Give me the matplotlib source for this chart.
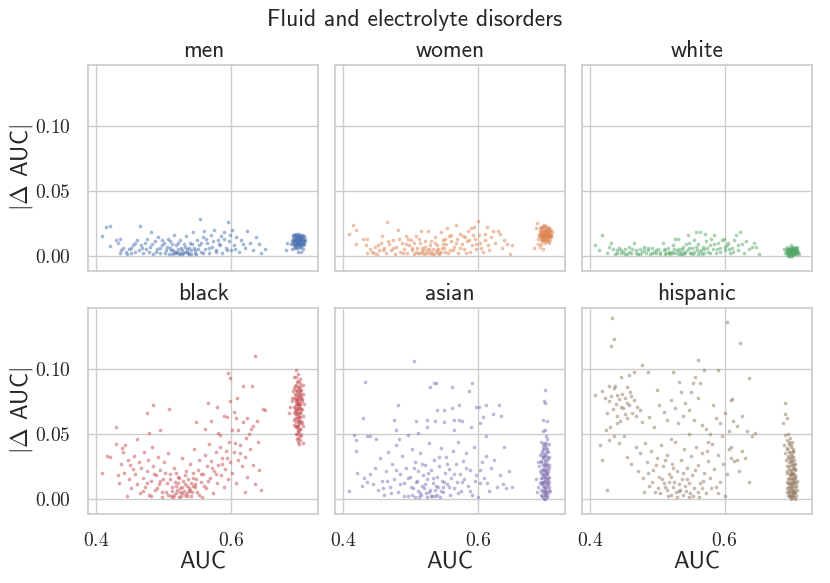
import matplotlib
matplotlib.use("Agg")
import matplotlib.pyplot as plt
import seaborn as sns
from matplotlib.ticker import FuncFormatter

# (AUC, |delta AUC|), spread part and the dense cluster near AUC 0.70
men_spread = [(0.408,0.015),(0.415,0.022),(0.420,0.023),(0.420,0.0075),(0.429,0.012),(0.432,0.010),(0.435,0.013),(0.437,0.004),(0.440,0.006),(0.436,0.002),(0.444,0.003),(0.448,0.005),(0.452,0.002),(0.455,0.008),(0.458,0.0095),(0.461,0.012),(0.465,0.023),(0.463,0.004),(0.468,0.006),(0.470,0.002),(0.472,0.010),(0.476,0.013),(0.478,0.003),(0.480,0.007),(0.482,0.018),(0.485,0.001),(0.487,0.011),(0.490,0.005),(0.492,0.014),(0.495,0.002),(0.498,0.008),(0.500,0.010),(0.503,0.004),(0.506,0.013),(0.508,0.001),(0.510,0.006),(0.513,0.009),(0.515,0.016),(0.517,0.003),(0.519,0.002),(0.521,0.005),(0.523,0.001),(0.525,0.012),(0.527,0.004),(0.529,0.002),(0.531,0.007),(0.533,0.015),(0.535,0.003),(0.537,0.001),(0.539,0.010),(0.541,0.004),(0.543,0.018),(0.545,0.006),(0.547,0.002),(0.549,0.012),(0.552,0.008),(0.554,0.028),(0.556,0.003),(0.558,0.014),(0.560,0.019),(0.562,0.005),(0.565,0.010),(0.567,0.002),(0.570,0.016),(0.572,0.007),(0.575,0.020),(0.577,0.004),(0.580,0.012),(0.582,0.009),(0.585,0.015),(0.587,0.002),(0.590,0.018),(0.592,0.006),(0.595,0.026),(0.597,0.011),(0.600,0.004),(0.602,0.020),(0.605,0.008),(0.608,0.014),(0.612,0.003),(0.615,0.012),(0.620,0.006),(0.623,0.019),(0.628,0.010),(0.632,0.004),(0.637,0.014),(0.641,0.009),(0.645,0.002),(0.650,0.005),(0.512,0.001),(0.516,0.002),(0.520,0.003),(0.524,0.002),(0.528,0.001),(0.532,0.003),(0.536,0.002),(0.540,0.001),(0.514,0.004),(0.526,0.006),(0.534,0.005),(0.546,0.004),
              (0.445,0.001),(0.452,0.006),(0.458,0.003),(0.466,0.008),(0.474,0.005),(0.483,0.009),(0.489,0.003),(0.494,0.006),(0.497,0.012),(0.502,0.002),(0.505,0.007),(0.509,0.011),(0.511,0.004),(0.518,0.008),(0.522,0.010),(0.530,0.009),(0.538,0.006),(0.542,0.009),(0.548,0.001),(0.551,0.005),(0.555,0.010),(0.559,0.002),(0.563,0.013),(0.568,0.006),(0.573,0.011),(0.578,0.003),(0.584,0.008),(0.589,0.013),(0.594,0.004),(0.599,0.016),(0.606,0.005),(0.617,0.009)]
men_cluster = [(0.693,0.012),(0.695,0.010),(0.697,0.013),(0.699,0.011),(0.701,0.009),(0.703,0.012),(0.705,0.010),(0.707,0.013),(0.694,0.008),(0.696,0.015),(0.698,0.008),(0.700,0.014),(0.702,0.016),(0.704,0.007),(0.706,0.015),(0.708,0.009),(0.692,0.014),(0.697,0.017),(0.701,0.012),(0.699,0.006),(0.703,0.014),(0.705,0.012),(0.695,0.013),(0.709,0.011),(0.700,0.010),(0.696,0.011),(0.702,0.010),(0.698,0.013),(0.704,0.011),(0.691,0.010),(0.689,0.009),(0.690,0.005),(0.693,0.016),(0.706,0.005),(0.710,0.013),(0.698,0.015),(0.702,0.007),(0.694,0.006),(0.700,0.017),(0.707,0.008),(0.681,0.004),(0.683,0.010),(0.699,0.003),(0.704,0.003),
               (0.692,0.011),(0.694,0.014),(0.696,0.009),(0.698,0.010),(0.700,0.012),(0.702,0.013),(0.704,0.009),(0.706,0.012),(0.708,0.011),(0.693,0.009),(0.695,0.016),(0.697,0.007),(0.699,0.014),(0.701,0.016),(0.703,0.008),(0.705,0.014),(0.707,0.010),(0.691,0.012),(0.696,0.013),(0.700,0.008),(0.704,0.013),(0.698,0.011),(0.702,0.012),(0.694,0.011),(0.706,0.009),(0.700,0.011),(0.697,0.010),(0.703,0.010),(0.699,0.009),(0.701,0.014),(0.695,0.008),(0.705,0.016),(0.708,0.015),(0.692,0.016),(0.696,0.006),(0.704,0.015)]

women_spread = [(0.409,0.017),(0.415,0.024),(0.419,0.020),(0.420,0.009),(0.430,0.013),(0.435,0.013),(0.434,0.008),(0.436,0.002),(0.440,0.005),(0.443,0.003),(0.447,0.007),(0.450,0.001),(0.453,0.004),(0.457,0.010),(0.458,0.015),(0.461,0.006),(0.464,0.002),(0.466,0.026),(0.468,0.009),(0.471,0.004),(0.474,0.012),(0.477,0.001),(0.479,0.007),(0.482,0.020),(0.484,0.003),(0.487,0.010),(0.490,0.005),(0.493,0.015),(0.495,0.002),(0.498,0.008),(0.501,0.012),(0.503,0.004),(0.505,0.001),(0.508,0.015),(0.510,0.006),(0.512,0.002),(0.514,0.010),(0.516,0.019),(0.518,0.003),(0.520,0.001),(0.522,0.007),(0.524,0.004),(0.526,0.019),(0.528,0.002),(0.530,0.011),(0.532,0.001),(0.534,0.005),(0.536,0.014),(0.538,0.003),(0.540,0.008),(0.542,0.001),(0.545,0.018),(0.547,0.006),(0.549,0.012),(0.551,0.003),(0.553,0.009),(0.555,0.021),(0.557,0.015),(0.559,0.004),(0.561,0.011),(0.564,0.007),(0.567,0.024),(0.569,0.013),(0.571,0.002),(0.574,0.017),(0.576,0.009),(0.579,0.005),(0.581,0.014),(0.584,0.011),(0.586,0.019),(0.588,0.003),(0.590,0.021),(0.592,0.008),(0.594,0.022),(0.596,0.013),(0.598,0.005),(0.600,0.027),(0.602,0.016),(0.604,0.010),(0.607,0.003),(0.610,0.012),(0.613,0.022),(0.615,0.008),(0.617,0.004),(0.620,0.014),(0.623,0.019),(0.626,0.010),(0.630,0.019),(0.633,0.017),(0.636,0.006),(0.639,0.012),(0.644,0.009),(0.648,0.001),(0.651,0.008),(0.515,0.002),(0.519,0.004),(0.523,0.002),(0.527,0.005),(0.531,0.003),(0.535,0.001),(0.539,0.004),(0.543,0.002),(0.546,0.003),(0.550,0.006),
                (0.446,0.002),(0.452,0.008),(0.459,0.004),(0.467,0.011),(0.475,0.006),(0.483,0.013),(0.489,0.002),(0.494,0.009),(0.497,0.013),(0.502,0.006),(0.506,0.010),(0.509,0.003),(0.513,0.013),(0.517,0.006),(0.521,0.011),(0.529,0.008),(0.537,0.010),(0.541,0.005),(0.548,0.009),(0.552,0.013),(0.556,0.002),(0.560,0.016),(0.563,0.004),(0.568,0.010),(0.573,0.006),(0.578,0.015),(0.583,0.002),(0.587,0.012),(0.593,0.016),(0.597,0.009),(0.605,0.006),(0.611,0.017)]
women_cluster = [(0.693,0.017),(0.695,0.014),(0.697,0.019),(0.699,0.016),(0.701,0.013),(0.703,0.018),(0.705,0.015),(0.707,0.019),(0.694,0.012),(0.696,0.021),(0.698,0.012),(0.700,0.020),(0.702,0.022),(0.704,0.011),(0.706,0.021),(0.708,0.014),(0.692,0.019),(0.697,0.023),(0.701,0.017),(0.699,0.010),(0.703,0.020),(0.705,0.017),(0.695,0.018),(0.709,0.016),(0.700,0.015),(0.696,0.016),(0.702,0.014),(0.698,0.018),(0.704,0.016),(0.691,0.015),(0.689,0.013),(0.690,0.009),(0.693,0.022),(0.706,0.010),(0.710,0.018),(0.698,0.024),(0.702,0.011),(0.694,0.009),(0.700,0.023),(0.707,0.012),(0.688,0.025),(0.686,0.021),(0.684,0.006),(0.692,0.007),(0.697,0.005),
                 (0.692,0.016),(0.694,0.019),(0.696,0.014),(0.698,0.015),(0.700,0.017),(0.702,0.018),(0.704,0.014),(0.706,0.017),(0.708,0.016),(0.693,0.014),(0.695,0.021),(0.697,0.012),(0.699,0.019),(0.701,0.021),(0.703,0.013),(0.705,0.019),(0.707,0.015),(0.691,0.017),(0.696,0.018),(0.700,0.013),(0.704,0.018),(0.698,0.016),(0.702,0.017),(0.694,0.016),(0.706,0.014),(0.700,0.016),(0.697,0.015),(0.703,0.015),(0.699,0.014),(0.701,0.019),(0.695,0.013),(0.705,0.021),(0.708,0.020),(0.692,0.021),(0.696,0.011),(0.704,0.020)]

white_spread = [(0.408,0.008),(0.414,0.004),(0.419,0.016),(0.425,0.002),(0.429,0.007),(0.432,0.0095),(0.435,0.005),(0.438,0.001),(0.441,0.004),(0.444,0.006),(0.447,0.002),(0.450,0.003),(0.453,0.005),(0.456,0.001),(0.459,0.007),(0.462,0.002),(0.465,0.0095),(0.468,0.004),(0.471,0.001),(0.474,0.005),(0.477,0.003),(0.480,0.007),(0.483,0.002),(0.486,0.004),(0.489,0.001),(0.492,0.006),(0.495,0.003),(0.498,0.002),(0.501,0.005),(0.504,0.001),(0.508,0.010),(0.510,0.004),(0.513,0.002),(0.516,0.006),(0.519,0.001),(0.522,0.003),(0.524,0.008),(0.526,0.0125),(0.528,0.002),(0.531,0.013),(0.533,0.005),(0.535,0.001),(0.538,0.007),(0.540,0.003),(0.543,0.009),(0.546,0.016),(0.548,0.010),(0.550,0.002),(0.552,0.006),(0.555,0.012),(0.557,0.018),(0.559,0.004),(0.561,0.009),(0.563,0.0185),(0.566,0.001),(0.568,0.007),(0.571,0.017),(0.573,0.011),(0.575,0.003),(0.578,0.008),(0.580,0.013),(0.583,0.005),(0.585,0.016),(0.588,0.002),(0.590,0.010),(0.593,0.006),(0.596,0.012),(0.599,0.013),(0.601,0.004),(0.603,0.008),(0.605,0.010),(0.608,0.002),(0.611,0.006),(0.614,0.012),(0.617,0.016),(0.620,0.004),(0.623,0.0185),(0.626,0.009),(0.629,0.002),(0.632,0.011),(0.636,0.005),(0.640,0.007),(0.644,0.010),(0.647,0.007),(0.651,0.001),(0.512,0.001),(0.518,0.003),(0.523,0.002),(0.529,0.004),(0.534,0.003),(0.539,0.001),(0.544,0.004),(0.549,0.002),(0.554,0.003),(0.560,0.001),(0.565,0.004),(0.570,0.002),
                (0.440,0.002),(0.446,0.004),(0.452,0.001),(0.458,0.003),(0.463,0.005),(0.469,0.002),(0.475,0.001),(0.481,0.004),(0.487,0.006),(0.493,0.002),(0.499,0.004),(0.505,0.003),(0.511,0.005),(0.517,0.002),(0.525,0.005),(0.532,0.001),(0.537,0.005),(0.542,0.002),(0.547,0.006),(0.553,0.001),(0.558,0.007),(0.564,0.003),(0.569,0.005),(0.574,0.006),(0.579,0.002),(0.584,0.009),(0.589,0.005),(0.594,0.003),(0.600,0.007),(0.607,0.005),(0.613,0.003),(0.620,0.008)]
white_cluster = [(0.693,0.003),(0.695,0.001),(0.697,0.004),(0.699,0.002),(0.701,0.005),(0.703,0.001),(0.705,0.003),(0.707,0.004),(0.694,0.005),(0.696,0.002),(0.698,0.006),(0.700,0.000),(0.702,0.003),(0.704,0.005),(0.706,0.001),(0.708,0.002),(0.692,0.001),(0.697,0.006),(0.701,0.002),(0.699,0.004),(0.703,0.004),(0.705,0.006),(0.695,0.004),(0.709,0.003),(0.700,0.003),(0.696,0.000),(0.702,0.001),(0.698,0.003),(0.704,0.002),(0.691,0.004),(0.690,0.002),(0.693,0.007),(0.706,0.004),(0.710,0.001),(0.707,0.007),(0.694,0.000),(0.688,0.005),(0.698,0.008),(0.702,0.007),
                 (0.692,0.003),(0.694,0.002),(0.696,0.005),(0.698,0.001),(0.700,0.004),(0.702,0.005),(0.704,0.003),(0.706,0.006),(0.708,0.004),(0.693,0.005),(0.695,0.003),(0.697,0.002),(0.699,0.005),(0.701,0.003),(0.703,0.006),(0.705,0.002),(0.707,0.002),(0.696,0.003),(0.700,0.006),(0.704,0.004),(0.698,0.004),(0.702,0.002),(0.694,0.003),(0.700,0.002),(0.697,0.001),(0.703,0.003),(0.699,0.000),(0.701,0.001)]

black_spread = [(0.635,0.110),(0.595,0.097),(0.599,0.093),(0.617,0.087),(0.631,0.087),(0.484,0.072),(0.475,0.066),(0.508,0.069),(0.430,0.055),(0.495,0.053),(0.478,0.051),(0.566,0.074),(0.579,0.071),(0.599,0.075),(0.609,0.078),(0.647,0.069),(0.651,0.068),(0.589,0.064),(0.594,0.063),(0.604,0.067),(0.608,0.062),(0.618,0.059),(0.623,0.062),(0.638,0.060),(0.633,0.056),(0.630,0.054),(0.548,0.059),(0.561,0.054),(0.570,0.060),(0.580,0.051),(0.584,0.049),(0.601,0.053),(0.611,0.053),(0.622,0.047),(0.640,0.044),
                (0.408,0.020),(0.416,0.033),(0.420,0.032),(0.430,0.042),(0.433,0.018),(0.434,0.012),(0.438,0.039),(0.440,0.036),(0.443,0.041),(0.445,0.002),(0.450,0.026),(0.455,0.023),(0.460,0.046),(0.437,0.027),(0.442,0.020),(0.447,0.030),(0.449,0.015),(0.452,0.008),(0.456,0.033),(0.458,0.019),(0.461,0.011),(0.463,0.028),(0.465,0.004),(0.467,0.024),(0.469,0.016),(0.471,0.036),(0.473,0.009),(0.475,0.021),(0.477,0.030),(0.479,0.003),(0.481,0.014),(0.483,0.040),(0.485,0.025),(0.487,0.007),(0.489,0.018),(0.491,0.032),(0.493,0.011),(0.495,0.022),(0.497,0.001),(0.499,0.015),(0.501,0.028),(0.503,0.005),(0.505,0.012),(0.507,0.035),(0.509,0.019),(0.511,0.002),(0.513,0.009),(0.515,0.024),(0.517,0.013),(0.519,0.004),(0.521,0.017),(0.523,0.001),(0.525,0.008),(0.527,0.031),(0.529,0.014),(0.531,0.003),(0.533,0.021),(0.535,0.010),(0.537,0.006),(0.539,0.027),(0.541,0.002),(0.543,0.016),(0.545,0.038),(0.547,0.011),(0.549,0.005),(0.551,0.022),(0.553,0.030),(0.555,0.013),(0.557,0.001),(0.559,0.019),(0.561,0.034),(0.563,0.008),(0.565,0.025),(0.567,0.042),(0.569,0.016),(0.571,0.029),(0.573,0.004),(0.575,0.021),(0.577,0.036),(0.579,0.012),(0.581,0.026),(0.583,0.040),(0.585,0.018),(0.587,0.031),(0.589,0.009),(0.591,0.023),(0.593,0.037),(0.595,0.015),(0.597,0.044),(0.599,0.028),(0.602,0.020),(0.604,0.036),(0.607,0.012),(0.610,0.030),(0.613,0.041),(0.616,0.025),(0.620,0.032),(0.621,0.005),(0.624,0.017),(0.628,0.038),(0.632,0.026),(0.636,0.011),(0.641,0.022),(0.645,0.007),
                (0.512,0.006),(0.516,0.003),(0.518,0.010),(0.520,0.007),(0.522,0.012),(0.524,0.005),(0.526,0.002),(0.528,0.009),(0.530,0.006),(0.532,0.011),(0.534,0.004),(0.536,0.015),(0.538,0.008),(0.540,0.012),(0.542,0.005),(0.544,0.020),(0.546,0.009),
                (0.470,0.006),(0.476,0.012),(0.482,0.002),(0.486,0.019),(0.490,0.008),(0.494,0.014),(0.498,0.005),(0.502,0.020),(0.506,0.003),(0.510,0.015),(0.514,0.001),(0.519,0.020),(0.523,0.016),(0.527,0.004),(0.531,0.018),(0.535,0.002),(0.539,0.007),(0.543,0.010),(0.548,0.015),(0.552,0.003),(0.556,0.019),(0.560,0.010),(0.566,0.014),(0.572,0.024),(0.578,0.019),(0.586,0.027),(0.594,0.031),(0.606,0.043),(0.614,0.035),(0.626,0.050)]
black_cluster = [(0.697,0.099),(0.700,0.096),(0.693,0.094),(0.703,0.092),(0.698,0.090),(0.706,0.088),(0.695,0.087),(0.701,0.085),(0.704,0.084),(0.692,0.083),(0.699,0.082),(0.707,0.081),(0.696,0.080),(0.702,0.079),(0.694,0.078),(0.705,0.077),(0.698,0.076),(0.700,0.075),(0.691,0.075),(0.703,0.074),(0.696,0.073),(0.708,0.073),(0.699,0.072),(0.694,0.071),(0.702,0.070),(0.705,0.069),(0.697,0.068),(0.700,0.067),(0.693,0.066),(0.703,0.066),(0.698,0.065),(0.706,0.064),(0.701,0.063),(0.695,0.062),(0.699,0.061),(0.704,0.060),(0.697,0.059),(0.702,0.058),(0.694,0.057),(0.700,0.056),(0.707,0.056),(0.696,0.055),(0.703,0.054),(0.699,0.053),(0.701,0.051),(0.697,0.050),(0.704,0.049),(0.700,0.047),(0.702,0.045),(0.706,0.043),(0.698,0.046),(0.688,0.071),(0.686,0.066),(0.690,0.078),(0.701,0.073),(0.698,0.070),(0.704,0.078),(0.696,0.084),(0.702,0.087),(0.699,0.078),(0.695,0.068),(0.701,0.060),(0.698,0.055),(0.703,0.082),(0.697,0.075),
                 (0.696,0.094),(0.699,0.091),(0.702,0.089),(0.697,0.088),(0.700,0.086),(0.694,0.085),(0.703,0.084),(0.698,0.083),(0.701,0.081),(0.695,0.081),(0.704,0.080),(0.699,0.079),(0.697,0.078),(0.702,0.077),(0.696,0.076),(0.705,0.075),(0.700,0.074),(0.698,0.073),(0.703,0.072),(0.695,0.071),(0.701,0.070),(0.699,0.069),(0.704,0.068),(0.697,0.067),(0.702,0.066),(0.696,0.065),(0.700,0.064),(0.703,0.063),(0.698,0.062),(0.694,0.061),(0.701,0.059),(0.705,0.058),(0.699,0.057),(0.697,0.056),(0.702,0.054),(0.700,0.052),(0.698,0.050),(0.703,0.048),(0.699,0.044),(0.701,0.042)]

asian_spread = [(0.506,0.106),(0.433,0.090),(0.535,0.089),(0.538,0.089),(0.529,0.086),(0.562,0.086),(0.591,0.089),(0.587,0.083),(0.481,0.072),(0.430,0.062),(0.476,0.061),(0.540,0.068),(0.550,0.068),(0.562,0.070),(0.572,0.072),(0.597,0.071),(0.602,0.071),(0.612,0.072),(0.622,0.065),(0.632,0.072),(0.635,0.064),(0.416,0.049),(0.420,0.045),(0.436,0.048),(0.440,0.048),(0.449,0.046),(0.420,0.037),(0.421,0.020),(0.409,0.006),(0.639,0.040),(0.647,0.021),(0.651,0.009),
                (0.508,0.060),(0.524,0.061),(0.537,0.060),(0.550,0.059),(0.565,0.061),(0.572,0.061),(0.577,0.060),(0.604,0.058),(0.607,0.063),(0.511,0.051),(0.478,0.053),(0.525,0.055),(0.565,0.053),(0.590,0.055),(0.612,0.048),(0.483,0.046),(0.496,0.049),
                (0.428,0.010),(0.432,0.016),(0.436,0.013),(0.440,0.019),(0.444,0.011),(0.448,0.024),(0.452,0.007),(0.455,0.031),(0.458,0.014),(0.461,0.003),(0.464,0.021),(0.467,0.036),(0.470,0.009),(0.473,0.027),(0.476,0.015),(0.479,0.041),(0.482,0.005),(0.485,0.019),(0.488,0.033),(0.491,0.012),(0.494,0.024),(0.497,0.002),(0.500,0.017),(0.502,0.038),(0.504,0.008),(0.507,0.028),(0.509,0.013),(0.511,0.021),(0.513,0.001),(0.515,0.035),(0.517,0.010),(0.519,0.018),(0.521,0.026),(0.523,0.004),(0.525,0.015),(0.527,0.043),(0.529,0.007),(0.531,0.022),(0.533,0.012),(0.535,0.030),(0.537,0.002),(0.539,0.017),(0.541,0.009),(0.543,0.025),(0.545,0.039),(0.547,0.014),(0.549,0.005),(0.551,0.020),(0.553,0.032),(0.555,0.011),(0.557,0.023),(0.559,0.003),(0.561,0.016),(0.563,0.037),(0.565,0.008),(0.567,0.027),(0.569,0.013),(0.571,0.044),(0.573,0.019),(0.575,0.006),(0.578,0.029),(0.580,0.015),(0.583,0.035),(0.586,0.010),(0.589,0.022),(0.592,0.003),(0.595,0.040),(0.598,0.018),(0.600,0.001),(0.603,0.012),(0.606,0.028),(0.609,0.016),(0.612,0.033),(0.616,0.006),(0.620,0.024),(0.624,0.030),(0.628,0.009),(0.633,0.018),(0.637,0.011),(0.642,0.008),
                (0.503,0.003),(0.507,0.001),(0.511,0.006),(0.516,0.003),(0.520,0.008),(0.524,0.001),(0.528,0.005),(0.532,0.002),(0.536,0.007),(0.540,0.003),(0.544,0.001),(0.548,0.009),
                (0.460,0.008),(0.466,0.014),(0.472,0.004),(0.478,0.022),(0.484,0.011),(0.490,0.002),(0.496,0.016),(0.501,0.009),(0.505,0.024),(0.510,0.014),(0.514,0.004),(0.518,0.027),(0.522,0.011),(0.526,0.020),(0.530,0.002),(0.534,0.016),(0.538,0.010),(0.542,0.032),(0.546,0.006),(0.550,0.013),(0.554,0.027),(0.558,0.009),(0.564,0.019),(0.570,0.004),(0.576,0.013),(0.582,0.024),(0.588,0.006),(0.596,0.014),(0.604,0.022),(0.614,0.012)]
asian_cluster = [(0.700,0.084),(0.698,0.075),(0.699,0.074),(0.697,0.061),(0.702,0.060),(0.699,0.053),(0.696,0.052),(0.701,0.048),(0.703,0.046),(0.694,0.044),(0.698,0.043),(0.705,0.042),(0.700,0.041),(0.697,0.039),(0.702,0.038),(0.695,0.037),(0.704,0.036),(0.699,0.035),(0.692,0.034),(0.701,0.033),(0.706,0.032),(0.697,0.031),(0.703,0.030),(0.694,0.029),(0.700,0.028),(0.698,0.027),(0.705,0.026),(0.691,0.025),(0.702,0.024),(0.696,0.023),(0.699,0.022),(0.704,0.021),(0.693,0.020),(0.701,0.019),(0.697,0.018),(0.706,0.017),(0.695,0.016),(0.700,0.015),(0.703,0.014),(0.698,0.013),(0.692,0.012),(0.702,0.011),(0.696,0.010),(0.705,0.009),(0.699,0.008),(0.694,0.007),(0.701,0.006),(0.697,0.005),(0.704,0.004),(0.700,0.003),(0.695,0.002),(0.702,0.001),(0.698,0.000),(0.707,0.006),(0.690,0.009),(0.688,0.005),(0.686,0.015),(0.689,0.028),(0.699,0.017),(0.701,0.026),(0.697,0.012),(0.703,0.020),(0.696,0.032),(0.700,0.006),(0.698,0.022),(0.702,0.016),(0.699,0.003),(0.694,0.013),(0.704,0.011),
                 (0.696,0.041),(0.701,0.040),(0.698,0.038),(0.703,0.037),(0.695,0.035),(0.700,0.034),(0.697,0.033),(0.704,0.031),(0.699,0.030),(0.694,0.028),(0.702,0.027),(0.697,0.026),(0.700,0.025),(0.705,0.024),(0.695,0.022),(0.701,0.021),(0.698,0.020),(0.703,0.019),(0.696,0.018),(0.700,0.017),(0.693,0.016),(0.704,0.015),(0.699,0.014),(0.697,0.013),(0.702,0.012),(0.695,0.011),(0.700,0.010),(0.703,0.009),(0.698,0.008),(0.705,0.007),(0.696,0.006),(0.701,0.005),(0.699,0.004),(0.694,0.003),(0.703,0.002),(0.697,0.001),(0.700,0.000),(0.706,0.013),(0.692,0.021),(0.701,0.043)]

hispanic_spread = [(0.433,0.139),(0.436,0.123),(0.431,0.118),(0.603,0.136),(0.623,0.120),(0.560,0.107),(0.478,0.103),(0.523,0.098),(0.486,0.098),(0.465,0.098),(0.570,0.099),(0.590,0.099),(0.637,0.093),(0.447,0.094),(0.459,0.095),(0.556,0.094),(0.553,0.089),(0.564,0.089),(0.532,0.090),(0.429,0.087),(0.437,0.087),(0.436,0.085),(0.456,0.086),(0.408,0.080),(0.419,0.083),(0.500,0.084),(0.536,0.082),(0.550,0.082),(0.611,0.077),(0.610,0.076),
                   (0.422,0.078),(0.428,0.075),(0.432,0.079),(0.440,0.080),(0.444,0.077),(0.448,0.081),(0.452,0.078),(0.455,0.074),(0.458,0.072),(0.462,0.079),(0.466,0.076),(0.470,0.071),(0.474,0.068),(0.426,0.066),(0.434,0.069),(0.441,0.064),(0.449,0.070),(0.456,0.062),(0.463,0.066),(0.445,0.060),(0.440,0.058),(0.430,0.055),(0.424,0.053),(0.415,0.041),(0.418,0.030),(0.428,0.045),(0.436,0.048),(0.444,0.043),(0.451,0.048),(0.478,0.059),(0.488,0.063),(0.495,0.055),(0.503,0.072),(0.510,0.067),(0.515,0.061),(0.520,0.076),(0.527,0.070),(0.531,0.058),(0.538,0.064),(0.542,0.074),(0.548,0.068),(0.554,0.061),(0.560,0.078),(0.566,0.057),(0.572,0.054),(0.578,0.050),(0.583,0.072),(0.588,0.062),(0.594,0.058),(0.600,0.066),(0.606,0.052),(0.612,0.060),(0.618,0.056),(0.626,0.064),(0.633,0.052),(0.640,0.048),(0.645,0.051),
                   (0.425,0.007),(0.455,0.032),(0.462,0.027),(0.468,0.040),(0.471,0.021),(0.475,0.035),(0.479,0.016),(0.482,0.043),(0.485,0.028),(0.488,0.010),(0.491,0.037),(0.494,0.022),(0.497,0.005),(0.500,0.031),(0.503,0.017),(0.506,0.041),(0.509,0.025),(0.512,0.009),(0.514,0.034),(0.517,0.019),(0.520,0.003),(0.522,0.027),(0.525,0.013),(0.527,0.044),(0.530,0.021),(0.532,0.006),(0.535,0.030),(0.537,0.015),(0.540,0.038),(0.542,0.010),(0.545,0.024),(0.547,0.001),(0.550,0.033),(0.552,0.018),(0.555,0.008),(0.558,0.040),(0.561,0.026),(0.564,0.012),(0.567,0.035),(0.570,0.020),(0.573,0.004),(0.576,0.029),(0.579,0.016),(0.582,0.042),(0.585,0.023),(0.588,0.009),(0.591,0.034),(0.594,0.013),(0.597,0.027),(0.600,0.002),(0.603,0.019),(0.606,0.038),(0.610,0.031),(0.614,0.029),(0.618,0.030),(0.622,0.021),(0.626,0.037),(0.630,0.031),(0.637,0.013),
                   (0.505,0.004),(0.510,0.012),(0.515,0.007),(0.518,0.013),(0.523,0.009),(0.528,0.005),(0.533,0.011),(0.538,0.003),(0.543,0.006),(0.548,0.012),(0.553,0.002),(0.560,0.005),(0.566,0.008),(0.590,0.004),
                   (0.480,0.005),(0.486,0.020),(0.492,0.013),(0.498,0.026),(0.502,0.008),(0.507,0.015),(0.511,0.030),(0.516,0.002),(0.520,0.017),(0.524,0.024),(0.529,0.001),(0.534,0.007),(0.539,0.020),(0.544,0.015),(0.549,0.004),(0.556,0.022),(0.562,0.001),(0.568,0.014),(0.574,0.037),(0.580,0.008),(0.446,0.071),(0.452,0.065),(0.439,0.073),(0.460,0.082),(0.468,0.064),(0.520,0.046),(0.548,0.050),(0.575,0.044),(0.596,0.048),(0.610,0.040)]
hispanic_cluster = [(0.689,0.074),(0.690,0.065),(0.692,0.062),(0.686,0.058),(0.694,0.050),(0.690,0.049),(0.697,0.047),(0.692,0.045),(0.700,0.044),(0.695,0.042),(0.688,0.041),(0.698,0.040),(0.693,0.038),(0.701,0.037),(0.696,0.036),(0.690,0.035),(0.699,0.034),(0.694,0.033),(0.702,0.032),(0.697,0.031),(0.691,0.030),(0.700,0.029),(0.695,0.028),(0.703,0.027),(0.698,0.026),(0.692,0.025),(0.701,0.024),(0.696,0.023),(0.704,0.022),(0.699,0.021),(0.693,0.020),(0.702,0.019),(0.697,0.018),(0.705,0.017),(0.700,0.016),(0.694,0.015),(0.703,0.014),(0.698,0.013),(0.706,0.012),(0.701,0.011),(0.695,0.010),(0.704,0.009),(0.699,0.008),(0.707,0.007),(0.702,0.006),(0.696,0.005),(0.705,0.004),(0.700,0.003),(0.697,0.002),(0.703,0.001),(0.699,0.000),(0.706,0.002),(0.694,0.003),(0.701,0.015),(0.698,0.020),(0.703,0.024),(0.700,0.009),(0.697,0.012),(0.704,0.018),(0.699,0.030),(0.702,0.036),(0.696,0.008),(0.701,0.004),(0.692,0.013),(0.705,0.027),
                    (0.695,0.044),(0.699,0.041),(0.693,0.039),(0.702,0.038),(0.697,0.036),(0.700,0.033),(0.694,0.031),(0.703,0.030),(0.698,0.028),(0.701,0.026),(0.695,0.025),(0.704,0.023),(0.699,0.022),(0.693,0.021),(0.702,0.020),(0.697,0.019),(0.700,0.018),(0.705,0.016),(0.696,0.016),(0.699,0.015),(0.703,0.013),(0.694,0.012),(0.701,0.012),(0.697,0.011),(0.706,0.010),(0.700,0.010),(0.693,0.008),(0.703,0.007),(0.698,0.007),(0.701,0.006),(0.695,0.006),(0.704,0.005),(0.699,0.004),(0.702,0.003),(0.696,0.002),(0.700,0.001),(0.698,0.001),(0.705,0.000),(0.692,0.005),(0.707,0.014)]

groups = ["men", "women", "white", "black", "asian", "hispanic"]
group_points = [men_spread + men_cluster, women_spread + women_cluster,
                white_spread + white_cluster, black_spread + black_cluster,
                asian_spread + asian_cluster, hispanic_spread + hispanic_cluster]
x_ticks = [0.4, 0.6]
y_ticks = [0.00, 0.05, 0.10]

sns.set_theme(style="whitegrid")
plt.rcParams["font.family"] = ["cmss10", "DejaVu Sans"]
plt.rcParams["mathtext.fontset"] = "cm"
plt.rcParams["axes.unicode_minus"] = False
colors = sns.color_palette("deep")

fig, axes = plt.subplots(2, 3, sharex=True, sharey=True, figsize=(8.3, 5.83), dpi=100)
fig.subplots_adjust(left=0.1066, right=0.978, top=0.8885, bottom=0.1184,
                    wspace=0.074, hspace=0.18)

for i, ax in enumerate(axes.flat):
    xs = [p[0] for p in group_points[i]]
    ys = [p[1] for p in group_points[i]]
    ax.scatter(xs, ys, s=7, color=colors[i], alpha=0.5, linewidth=0)
    ax.set_title(groups[i], fontsize=17, pad=6)
    ax.set_xticks(x_ticks)
    ax.set_yticks(y_ticks)
    ax.xaxis.set_major_formatter(FuncFormatter(lambda v, p: "$%.1f$" % v))
    ax.yaxis.set_major_formatter(FuncFormatter(lambda v, p: "$%.2f$" % v))
    ax.tick_params(labelsize=14, pad=7)

axes[0, 0].set_xlim(0.3886, 0.7293)
axes[0, 0].set_ylim(-0.0118, 0.147)
for ax in axes[1]:
    ax.set_xlabel("AUC", fontsize=17, labelpad=1)
for ax in axes[:, 0]:
    ax.set_ylabel(r"$|\Delta$ AUC$|$", fontsize=17, labelpad=0)

fig.suptitle("Fluid and electrolyte disorders", fontsize=17, y=0.985)

plt.savefig("out.png")
